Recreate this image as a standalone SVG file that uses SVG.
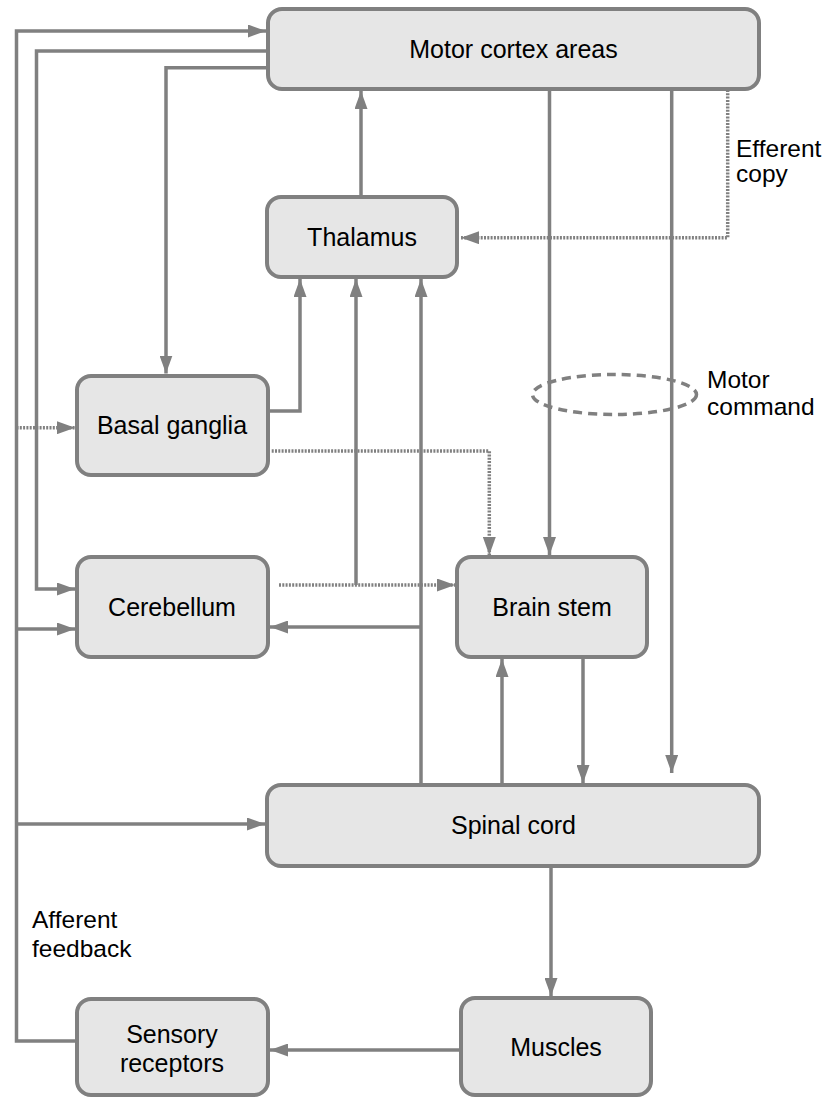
<svg xmlns="http://www.w3.org/2000/svg" width="827" height="1099" viewBox="0 0 827 1099">
  <style>
    .box { fill: #e6e6e6; stroke: #808080; stroke-width: 4; }
    .lbl { font-family: "Liberation Sans", Arial, sans-serif; font-size: 25px; fill: #000; }
    .node-text { text-anchor: middle; }
    .note { font-family: "Liberation Sans", Arial, sans-serif; font-size: 24.5px; fill: #000; }
    .wire { fill: none; stroke: #808080; stroke-width: 3.5; stroke-linejoin: miter; }
    .solid { marker-end: url(#arrow); }
    .dotted { stroke-dasharray: 2 1.3; marker-end: url(#arrow); }
    .ring { fill: none; stroke: #808080; stroke-width: 3.5; stroke-dasharray: 9 6; }
  </style>
  <defs>
    <marker id="arrow" markerUnits="userSpaceOnUse" markerWidth="19" markerHeight="13" refX="18" refY="6.5" orient="auto">
      <path d="M0,0 L18,6.5 L0,13 z" fill="#808080"/>
    </marker>
  </defs>

  <!-- connectors -->
  <g id="connectors">
    <!-- afferent feedback trunk and its branches -->
    <path class="wire solid" d="M77,1041 H16.5 V31 H266"/>
    <path class="wire solid" d="M16.5,629 H75"/>
    <path class="wire solid" d="M16.5,824 H265"/>
    <path class="wire dotted" d="M16.5,427.7 H75"/>
    <!-- motor cortex outputs -->
    <path class="wire solid" d="M268,51 H36.5 V589 H75"/>
    <path class="wire solid" d="M268,67.7 H166 V373.5"/>
    <path class="wire solid" d="M549.5,89 V555"/>
    <path class="wire solid" d="M671.7,89 V773"/>
    <path class="wire dotted" d="M727.7,90 V237.7 H461"/>
    <!-- thalamus to motor cortex -->
    <path class="wire solid" d="M361,197 V91"/>
    <!-- basal ganglia outputs -->
    <path class="wire solid" d="M268,411 H300 V279"/>
    <path class="wire dotted" d="M271.7,451 H489.3 V555"/>
    <!-- cerebellum outputs -->
    <path class="wire dotted" d="M279,585 H455"/>
    <path class="wire solid" d="M356,585 V279"/>
    <!-- spinal cord ascending -->
    <path class="wire solid" d="M421,785 V279"/>
    <path class="wire solid" d="M421,627 H270"/>
    <path class="wire solid" d="M502,785 V659"/>
    <!-- brain stem to spinal cord -->
    <path class="wire solid" d="M583,657 V783"/>
    <!-- spinal cord to muscles, muscles to receptors -->
    <path class="wire solid" d="M551,866 V996"/>
    <path class="wire solid" d="M461,1050 H270"/>
    <!-- motor command bundle -->
    <ellipse class="ring" cx="614.5" cy="394.5" rx="82" ry="20"/>
  </g>

  <!-- nodes -->
  <g id="motor-cortex">
    <rect class="box" x="268" y="9" width="491" height="80" rx="14"/>
    <text class="lbl node-text" x="513.5" y="58">Motor cortex areas</text>
  </g>
  <g id="thalamus">
    <rect class="box" x="267" y="197" width="190" height="80" rx="14"/>
    <text class="lbl node-text" x="362" y="246">Thalamus</text>
  </g>
  <g id="basal-ganglia">
    <rect class="box" x="77" y="376" width="191" height="99" rx="14"/>
    <text class="lbl node-text" x="172" y="434">Basal ganglia</text>
  </g>
  <g id="cerebellum">
    <rect class="box" x="77" y="557" width="191" height="100" rx="14"/>
    <text class="lbl node-text" x="172" y="616">Cerebellum</text>
  </g>
  <g id="brain-stem">
    <rect class="box" x="457" y="557" width="190" height="100" rx="14"/>
    <text class="lbl node-text" x="552" y="616">Brain stem</text>
  </g>
  <g id="spinal-cord">
    <rect class="box" x="267" y="785" width="492" height="81" rx="14"/>
    <text class="lbl node-text" x="513.5" y="834">Spinal cord</text>
  </g>
  <g id="sensory-receptors">
    <rect class="box" x="77" y="999" width="191" height="96" rx="14"/>
    <text class="lbl node-text" x="172" y="1043">Sensory</text>
    <text class="lbl node-text" x="172" y="1072">receptors</text>
  </g>
  <g id="muscles">
    <rect class="box" x="461" y="998" width="190" height="97" rx="14"/>
    <text class="lbl node-text" x="556" y="1056">Muscles</text>
  </g>

  <!-- annotations -->
  <g id="labels">
    <text class="note" x="736" y="157">Efferent</text>
    <text class="note" x="736" y="182">copy</text>
    <text class="note" x="707" y="388">Motor</text>
    <text class="note" x="707" y="415">command</text>
    <text class="note" x="32" y="928">Afferent</text>
    <text class="note" x="32" y="957">feedback</text>
  </g>
</svg>
